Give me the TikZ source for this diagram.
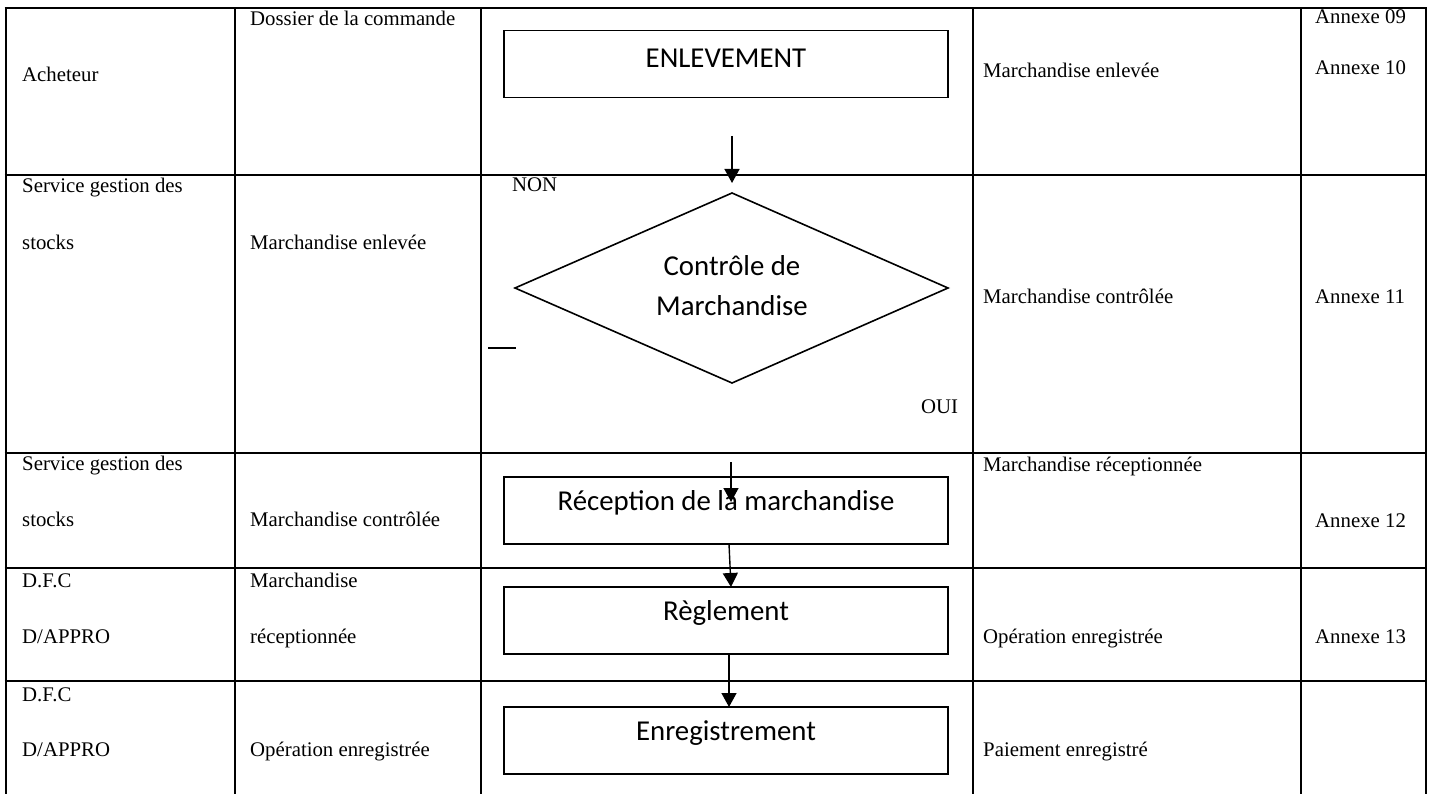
\documentclass[tikz,border=0pt]{standalone}
\usepackage{fontspec}
\setmainfont{Liberation Serif}
\newfontfamily\boxfont{Carlito}
\usetikzlibrary{arrows.meta,shapes.geometric}
\begin{document}
\begin{tikzpicture}[x=1pt,y=-1pt,
  grid/.style={line width=2.6pt},
  cell/.style={anchor=base west,inner sep=0pt,font=\fontsize{20.8}{24}\selectfont},
  flowbox/.style={draw,line width=1.6pt,minimum width=444pt,minimum height=67pt,inner sep=0pt},
  boxlabel/.style={inner sep=0pt,font=\boxfont\fontsize{28.8}{40}\selectfont},
  flowarrow/.style={line width=1.4pt,-{Triangle[width=15pt,length=14pt]}}]
\useasboundingbox (0,0) rectangle (1434,794);
\fill[white] (0,0) rectangle (1434,794);
% table grid
\foreach \y in {8,175,453,568,681} \draw[grid] (4.7,\y) -- (1427.3,\y);
\foreach \x in {6,235,481,973,1301,1426} \draw[grid] (\x,8) -- (\x,794);
% column 1
\node[cell] (c1a) at (22,82) {Acheteur};
\node[cell] (c1b) at (22,193) {Service gestion des};
\node[cell] (c1c) at (22,250) {stocks};
\node[cell] (c1d) at (22,470) {Service gestion des};
\node[cell] (c1e) at (22,526) {stocks};
\node[cell] (c1f) at (22,587) {D.F.C};
\node[cell] (c1g) at (22,643) {D/APPRO};
\node[cell] (c1h) at (22,701) {D.F.C};
\node[cell] (c1i) at (22,756) {D/APPRO};
% column 2
\node[cell] (c2a) at (250,26) {Dossier de la commande};
\node[cell] (c2b) at (250,250) {Marchandise enlevée};
\node[cell] (c2c) at (250,526) {Marchandise contrôlée};
\node[cell] (c2d) at (250,587) {Marchandise};
\node[cell] (c2e) at (250,643) {réceptionnée};
\node[cell] (c2f) at (250,756) {Opération enregistrée};
% column 4
\node[cell] (c4a) at (983,78) {Marchandise enlevée};
\node[cell] (c4b) at (983,303) {Marchandise contrôlée};
\node[cell] (c4c) at (983,471) {Marchandise réceptionnée};
\node[cell] (c4d) at (983,643) {Opération enregistrée};
\node[cell] (c4e) at (983,756) {Paiement enregistré};
% column 5
\node[cell] (c5a) at (1315,24) {Annexe 09};
\node[cell] (c5b) at (1315,75) {Annexe 10};
\node[cell] (c5c) at (1315,303) {Annexe 11};
\node[cell] (c5d) at (1315,527) {Annexe 12};
\node[cell] (c5e) at (1315,643) {Annexe 13};
% flow chart
\node[flowbox] (enl) at (726,64) {};
\node[boxlabel] at (726,58) {ENLEVEMENT};
\draw[line width=1.6pt] (732,193) coordinate (dtop) -- (948,288) coordinate (dright)
  -- (732,383) coordinate (dbot) -- (515,288) coordinate (dleft) -- cycle;
\node[boxlabel,align=center,font=\boxfont\fontsize{28.8}{40}\selectfont] (ctl) at (732,286) {Contrôle de\\Marchandise};
\node[cell] (non) at (512,192) {NON};
\node[cell] (oui) at (921,413) {OUI};
\draw[line width=1.2pt] (488,348) coordinate (dashA) -- (516,348) coordinate (dashB);
\node[flowbox] (rec) at (726,510.5) {};
\node[boxlabel] at (726,503) {Réception de la marchandise};
\node[flowbox] (reg) at (726,620.5) {};
\node[boxlabel] at (726,613) {Règlement};
\node[flowbox] (enr) at (726,740.5) {};
\node[boxlabel] at (726,733) {Enregistrement};
% arrows
\coordinate (a1s) at (732,136);
\coordinate (a1e) at (732,183);
\draw[flowarrow] (a1s) -- (a1e);
\coordinate (a2s) at (731,462);
\coordinate (a2e) at (731,502);
\draw[flowarrow] (a2s) -- (a2e);
\draw[flowarrow] (729,544) -- (731,587);
\draw[flowarrow] (729,654) -- (729,707);
\end{tikzpicture}
\end{document}
